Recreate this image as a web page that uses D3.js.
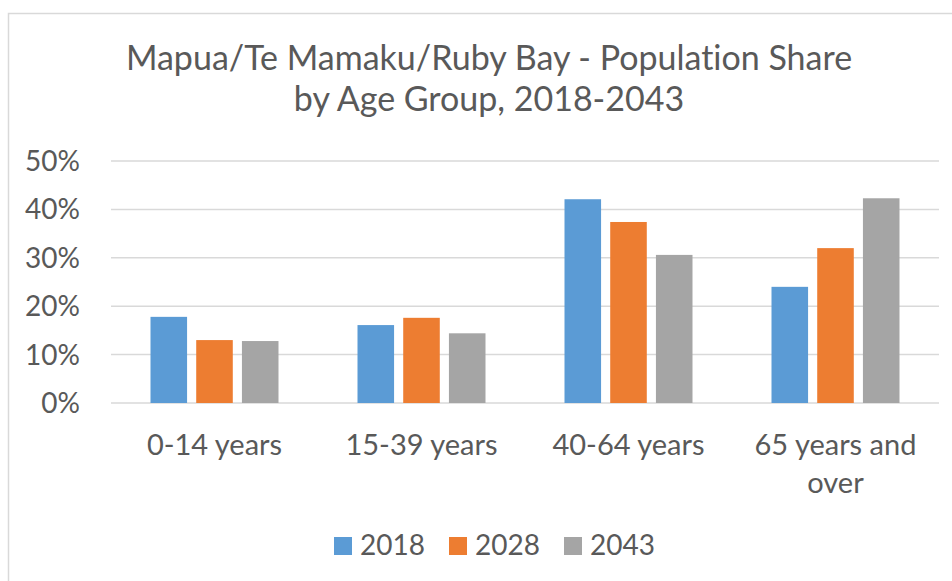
<!DOCTYPE html>
<html>
<head>
<meta charset="utf-8">
<script src="https://cdn.jsdelivr.net/npm/d3@7"></script>
<style>
    body { margin: 0; background: #fff; }
    text { font-family: Lato, "Open Sans", sans-serif; fill: #595959; font-variant-ligatures: none; }
</style>
</head>
<body>
<script>
//chart data
var categories = ["0-14 years", "15-39 years", "40-64 years", "65 years and over"];
var seriesNames = ["2018", "2028", "2043"];
var values2018 = [17.8, 16.1, 42.1, 24.0];
var values2028 = [13.0, 17.6, 37.4, 32.0];
var values2043 = [12.8, 14.4, 30.6, 42.3];
var yTicks = [0, 10, 20, 30, 40, 50];

(function(){

    var colors = ["#5B9BD5", "#ED7D31", "#A5A5A5"];
    var seriesValues = [values2018, values2028, values2043];

    //begin script when window loads
    window.onload = setChart();

function setChart(){
    var width = 952,
        height = 581;

    var svg = d3.select("body")
        .append("svg")
        .attr("width", width)
        .attr("height", height);

    //chart area border (right and bottom edges fall outside the picture)
    svg.append("rect")
        .attr("x", 8.5)
        .attr("y", 13.5)
        .attr("width", 960)
        .attr("height", 600)
        .style("fill", "none")
        .style("stroke", "#D9D9D9")
        .style("stroke-width", 1.5);

    //title
    var title = svg.append("text")
        .attr("text-anchor", "middle")
        .style("font-size", "34px");
    title.append("tspan").attr("x", 489).attr("y", 70).text("Mapua/Te Mamaku/Ruby Bay - Population Share");
    title.append("tspan").attr("x", 489).attr("y", 111).text("by Age Group, 2018-2043");

    //scales
    var x0 = d3.scaleBand()
        .domain(categories)
        .range([111, 939]);

    var x1 = d3.scaleBand()
        .domain(seriesNames)
        .range([0, 128])
        .paddingInner(0.2);

    var y = d3.scaleLinear()
        .domain([0, 50])
        .range([403, 161]);

    //gridlines
    svg.selectAll(".grid")
        .data(yTicks)
        .enter()
        .append("line")
        .attr("class", "grid")
        .attr("x1", x0.range()[0])
        .attr("x2", x0.range()[1])
        .attr("y1", d => y(d))
        .attr("y2", d => y(d))
        .style("stroke", "#D9D9D9")
        .style("stroke-width", 1.5);

    //y axis labels
    svg.selectAll(".ylab")
        .data(yTicks)
        .enter()
        .append("text")
        .attr("class", "ylab")
        .attr("x", 80)
        .attr("y", d => y(d) + 10)
        .attr("text-anchor", "end")
        .style("font-size", "28px")
        .text(d => d + "%");

    //bars
    var groups = svg.selectAll(".group")
        .data(categories)
        .enter()
        .append("g")
        .attr("class", "group")
        .attr("transform", d => "translate(" + (x0(d) + (x0.bandwidth() - 128) / 2) + ",0)");

    groups.selectAll("rect")
        .data(function(d, i){
            return seriesNames.map(function(s, j){
                return { series: s, value: seriesValues[j][i], color: colors[j] };
            });
        })
        .enter()
        .append("rect")
        .attr("x", d => x1(d.series))
        .attr("y", d => y(d.value))
        .attr("width", x1.bandwidth())
        .attr("height", d => y(0) - y(d.value))
        .style("fill", d => d.color);

    //category labels, wrapping the long one
    var catLabels = svg.selectAll(".cat")
        .data(categories)
        .enter()
        .append("text")
        .attr("class", "cat")
        .attr("text-anchor", "middle")
        .style("font-size", "29px");

    catLabels.each(function(d){
        var lines = d == "65 years and over" ? ["65 years and", "over"] : [d];
        var t = d3.select(this);
        lines.forEach(function(line, k){
            t.append("tspan")
                .attr("x", x0(d) + x0.bandwidth() / 2)
                .attr("y", 455 + k * 38)
                .text(line);
        });
    });

    //legend
    var legendX = [334, 449, 564];
    var legend = svg.selectAll(".legend")
        .data(seriesNames)
        .enter()
        .append("g")
        .attr("class", "legend")
        .attr("transform", (d, i) => "translate(" + legendX[i] + ",537)");

    legend.append("rect")
        .attr("width", 18)
        .attr("height", 18)
        .style("fill", (d, i) => colors[i]);

    legend.append("text")
        .attr("x", 26)
        .attr("y", 18)
        .style("font-size", "28px")
        .text(d => d);
};

})();
</script>
</body>
</html>
